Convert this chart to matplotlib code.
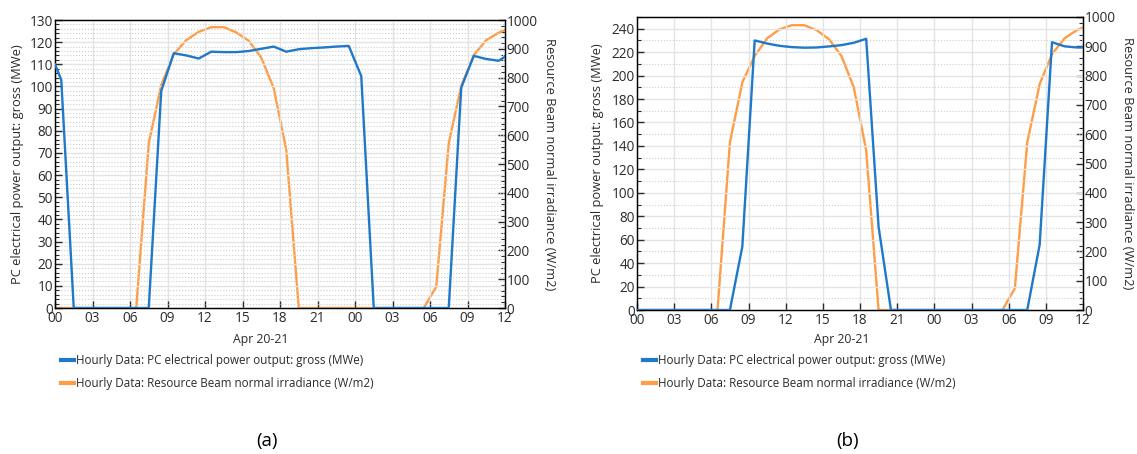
import matplotlib
matplotlib.use("Agg")
import matplotlib.pyplot as plt
from matplotlib.ticker import MultipleLocator
from matplotlib.lines import Line2D

plt.rcParams['font.family'] = ['Open Sans', 'DejaVu Sans']

# time axis: hours since Apr 20 00:00 (hourly values plotted at half hours)
hours = [0, 0.5, 1.5, 2.5, 3.5, 4.5, 5.5, 6.5, 7.5, 8.5, 9.5, 10.5, 11.5,
         12.5, 13.5, 14.5, 15.5, 16.5, 17.5, 18.5, 19.5, 20.5, 21.5, 22.5,
         23.5, 24.5, 25.5, 26.5, 27.5, 28.5, 29.5, 30.5, 31.5, 32.5, 33.5,
         34.5, 35.5, 36]
tick_hours = [0, 3, 6, 9, 12, 15, 18, 21, 24, 27, 30, 33, 36]
tick_labels = ['00', '03', '06', '09', '12', '15', '18', '21',
               '00', '03', '06', '09', '12']

# (a) power output (MWe) and beam normal irradiance (W/m2)
power_a = [110, 103, 0, 0, 0, 0, 0, 0, 0, 98, 115, 114, 112.6, 115.7, 115.5,
           115.5, 116, 117, 118, 115.7, 116.8, 117.3, 117.6, 118, 118.3,
           104.7, 0, 0, 0, 0, 0, 0, 0, 99.5, 113.8, 112.4, 111.6, 113.4]
dni_a = [0, 0, 0, 0, 0, 0, 0, 0, 572, 774, 881, 930, 959, 975, 975, 957,
         928, 869, 763, 549, 0, 0, 0, 0, 0, 0, 0, 0, 0, 0, 0, 74, 572, 771,
         878, 930, 956, 965]

# (b)
power_b = [0, 0, 0, 0, 0, 0, 0, 0, 0, 54, 230, 227.4, 225.4, 224.3, 223.8,
           224, 224.9, 226, 228, 231.4, 71, 0, 0, 0, 0, 0, 0, 0, 0, 0, 0, 0,
           0, 55.6, 228.5, 225, 224, 224]
dni_b = [0, 0, 0, 0, 0, 0, 0, 0, 572, 777, 867, 927, 958, 972, 972, 955,
         924, 867, 760, 544, 0, 0, 0, 0, 0, 0, 0, 0, 0, 0, 0, 74, 572, 771,
         873, 927, 955, 964]

blue = '#1f78c8'
orange = '#ff9d45'
txt = '#2b2b2b'
W, H = 1137, 454

fig = plt.figure(figsize=(W / 100, H / 100), dpi=100)


def panel(box, power, dni, ymax, major, minor, label, lab_x, cap_x):
    x0, y0, x1, y1 = box
    ax = fig.add_axes([x0 / W, 1 - y1 / H, (x1 - x0) / W, (y1 - y0) / H])
    ax2 = ax.twinx()
    ax.plot(hours, power, color=blue, lw=1.7, zorder=3)
    ax2.plot(hours, dni, color=orange, lw=1.7, zorder=2)
    ax.set_xlim(0, 36)
    ax.set_ylim(0, ymax)
    ax2.set_ylim(0, 1000)
    ax.set_xticks(tick_hours)
    ax.set_xticklabels(tick_labels)
    ax.yaxis.set_major_locator(MultipleLocator(major))
    ax.yaxis.set_minor_locator(MultipleLocator(minor))
    ax2.yaxis.set_major_locator(MultipleLocator(100))
    ax2.yaxis.set_minor_locator(MultipleLocator(20))
    ax.grid(True, which='major', color='#e4e4e4', lw=1.0, ls='-')
    ax.grid(True, which='minor', axis='y', color='#cfcfcf', lw=0.8, ls=':')
    ax.set_axisbelow(True)
    ax.set_zorder(ax2.get_zorder() + 1)
    ax.patch.set_visible(False)
    for a in (ax, ax2):
        for s in a.spines.values():
            s.set_color('black')
            s.set_linewidth(0.9)
    ax.tick_params(axis='both', which='major', direction='in', length=5,
                   width=1, labelsize=9.8, colors=txt)
    ax.tick_params(axis='y', which='minor', direction='in', length=3,
                   width=0.8, color=txt)
    ax.tick_params(axis='y', pad=1.5)
    ax.tick_params(axis='x', pad=2.5)
    ax2.tick_params(axis='y', which='major', direction='in', length=5,
                    width=1, labelsize=9.8, colors=txt, pad=1)
    ax2.tick_params(axis='y', which='minor', direction='in', length=3,
                    width=0.8, color=txt)
    for t in ax.get_yticklabels() + ax.get_xticklabels() + ax2.get_yticklabels():
        t.set_color(txt)
    ym = 1 - (y0 + y1) / 2 / H
    fig.text(lab_x[0] / W, ym, 'PC electrical power output: gross (MWe)',
             rotation=90, ha='center', va='center', fontsize=9.3, color=txt)
    fig.text(lab_x[1] / W, ym, 'Resource Beam normal irradiance (W/m2)',
             rotation=-90, ha='center', va='center', fontsize=9.3, color=txt)
    fig.text(cap_x / W, 1 - 339 / H, 'Apr 20-21', ha='center', va='center',
             fontsize=8.8, color=txt)
    handles = [Line2D([], [], color=blue, lw=3),
               Line2D([], [], color=orange, lw=3)]
    fig.legend(handles,
               ['Hourly Data: PC electrical power output: gross (MWe)',
                'Hourly Data: Resource Beam normal irradiance (W/m2)'],
               loc='upper left', bbox_to_anchor=((x0 + 6) / W, 1 - 354 / H),
               frameon=False, fontsize=8.4, handlelength=1.15,
               handletextpad=0.15, borderpad=0, borderaxespad=0,
               labelspacing=0.85, labelcolor=txt)
    fig.text(cap_x / W + 6 / W, 1 - 441 / H, label, ha='center', va='center',
             fontsize=13.5, color='black')
    return ax


panel((55, 20, 505, 308), power_a, dni_a, 130, 10, 2, '(a)', (18, 549), 261)
panel((637, 17, 1083, 310), power_b, dni_b, 250, 20, 10, '(b)', (598, 1127), 842)

fig.savefig('out.png', dpi=100)
